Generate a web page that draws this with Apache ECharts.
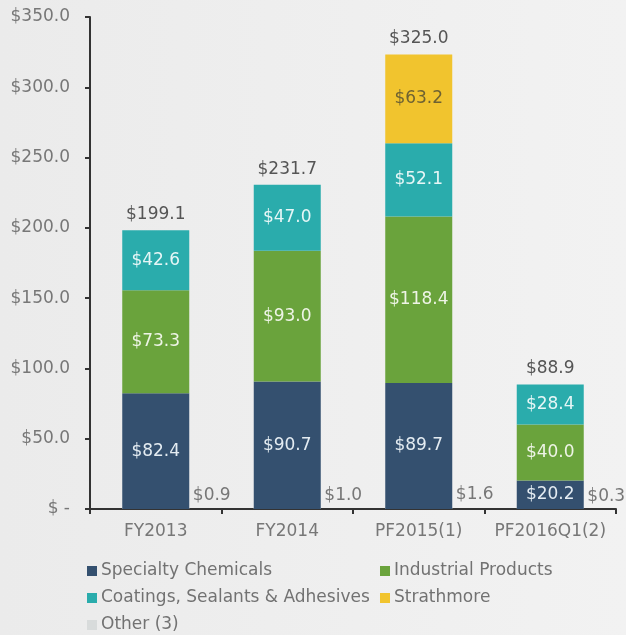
<!DOCTYPE html>
<html><head><meta charset="utf-8">
<script src="https://cdn.jsdelivr.net/npm/echarts@6/dist/echarts.min.js"></script>
<style>html,body{margin:0;padding:0;background:#eeeeee}#c{width:626px;height:635px}</style>
</head><body><div id="c"></div>
<script>
const categories = ['FY2013', 'FY2014', 'PF2015(1)', 'PF2016Q1(2)'];
const specialty = [82.4, 90.7, 89.7, 20.2];
const industrial = [73.3, 93.0, 118.4, 40.0];
const coatings = [42.6, 47.0, 52.1, 28.4];
const strathmore = [null, null, 63.2, null];
const other = [0.9, 1.0, 1.6, 0.3];
const totals = [199.1, 231.7, 325.0, 88.9];
const yTicks = { min: 0, max: 350, interval: 50 };

const font = 'DejaVu Sans';
const fs = 17;
const fmt = v => '$' + Number(v).toFixed(1);
const inLabel = (color) => ({ show: true, position: 'inside', color: color, fontFamily: font, fontSize: fs, formatter: p => fmt(p.value) });
const legendBase = { orient: 'vertical', itemWidth: 10, itemHeight: 10, itemGap: 9, icon: 'rect', padding: 0,
  textStyle: { color: '#727272', fontFamily: font, fontSize: fs, lineHeight: 18, padding: [0,0,0,-1] } };

const chart = echarts.init(document.getElementById('c'));
chart.setOption({
  backgroundColor: new echarts.graphic.LinearGradient(0, 0, 1, 0, [
    { offset: 0, color: '#ebebeb' }, { offset: 1, color: '#f2f2f2' }
  ]),
  animation: false,
  grid: { left: 90, right: 10, top: 17, bottom: 126 },
  xAxis: {
    type: 'category', data: categories,
    axisLine: { lineStyle: { color: '#333', width: 2 } },
    axisTick: { show: true, length: 5, lineStyle: { color: '#333', width: 2 } },
    axisLabel: { interval: 0, color: '#777', fontFamily: font, fontSize: fs, margin: 14 }
  },
  yAxis: {
    type: 'value', min: yTicks.min, max: yTicks.max, interval: yTicks.interval,
    splitLine: { show: false },
    axisLine: { show: true, lineStyle: { color: '#333', width: 2 } },
    axisTick: { show: true, length: 5, lineStyle: { color: '#333', width: 2 } },
    axisLabel: { color: '#777', fontFamily: font, fontSize: fs, margin: 20,
      formatter: v => v === 0 ? '$ -' : fmt(v) }
  },
  legend: [
    Object.assign({}, legendBase, { left: 87, top: 562, data: ['Specialty Chemicals', 'Coatings, Sealants & Adhesives', 'Other (3)'] }),
    Object.assign({}, legendBase, { left: 380, top: 562, data: ['Industrial Products', 'Strathmore'] })
  ],
  series: [
    { name: 'Other (3)', type: 'bar', data: other, barWidth: 67, barGap: '-100%',
      itemStyle: { color: '#d8dbdb' },
      label: { show: true, position: 'top', distance: 4, offset: [56, 0], color: '#777', fontFamily: font, fontSize: fs, formatter: p => fmt(p.value) } },
    { name: 'Specialty Chemicals', type: 'bar', stack: 'a', data: specialty, barWidth: 67, barGap: '-100%',
      itemStyle: { color: '#34506f' }, label: inLabel('#e4ecf2') },
    { name: 'Industrial Products', type: 'bar', stack: 'a', data: industrial, barWidth: 67,
      itemStyle: { color: '#6aa33c' }, label: inLabel('#eef4e6') },
    { name: 'Coatings, Sealants & Adhesives', type: 'bar', stack: 'a', data: coatings, barWidth: 67,
      itemStyle: { color: '#2aacac' }, label: inLabel('#e6f6f6') },
    { name: 'Strathmore', type: 'bar', stack: 'a', data: strathmore, barWidth: 67,
      itemStyle: { color: '#f1c42e' }, label: inLabel('#6e6232') },
    { name: 'Total', type: 'bar', stack: 'a', data: totals.map(() => 0), barWidth: 67,
      itemStyle: { color: 'transparent' },
      label: { show: true, position: 'top', distance: 7, color: '#555', fontFamily: font, fontSize: fs,
        formatter: p => fmt(totals[p.dataIndex]) } }
  ]
});
</script></body></html>
